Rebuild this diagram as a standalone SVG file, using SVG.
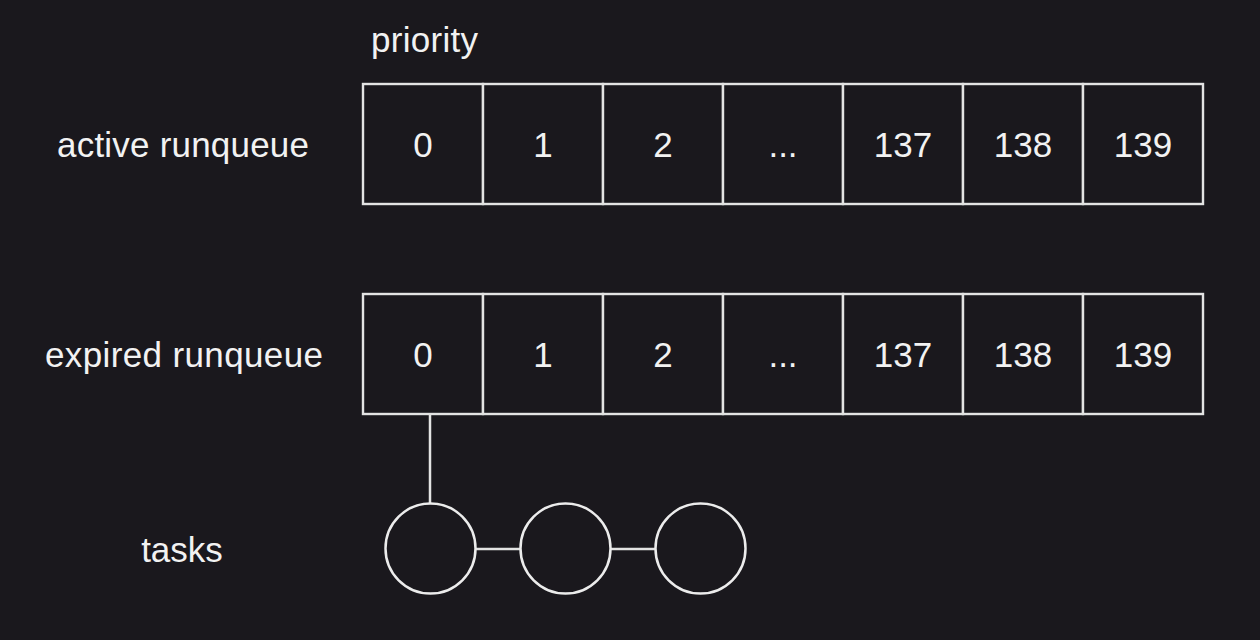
<svg xmlns="http://www.w3.org/2000/svg" width="1260" height="640" viewBox="0 0 1260 640">
  <style>
    .bg { fill: #1a181d; }
    .cell { fill: #1a181d; stroke: #e3e3e3; stroke-width: 2.4; }
    .task { fill: #1a181d; stroke: #ececec; stroke-width: 2.5; }
    .wire { stroke: #e3e3e3; stroke-width: 2.5; fill: none; }
    text { font-family: "Liberation Sans", Arial, sans-serif; font-size: 35px; fill: #f2f2f2; text-anchor: middle; }
  </style>
  <rect class="bg" x="0" y="0" width="1260" height="640"/>

  <g id="labels">
    <text x="424.5" y="52" textLength="107" lengthAdjust="spacing">priority</text>
    <text x="183" y="157" textLength="252" lengthAdjust="spacing">active runqueue</text>
    <text x="184" y="367" textLength="278" lengthAdjust="spacing">expired runqueue</text>
    <text x="182" y="562">tasks</text>
  </g>

  <g id="connectors">
    <line class="wire" x1="430" y1="414" x2="430" y2="504"/>
    <line class="wire" x1="476" y1="549" x2="520" y2="549"/>
    <line class="wire" x1="611" y1="549" x2="655" y2="549"/>
  </g>

  <g id="active-runqueue">
    <g id="a0"><rect class="cell" x="363" y="84" width="120" height="120"/><text x="423" y="157">0</text></g>
    <g id="a1"><rect class="cell" x="483" y="84" width="120" height="120"/><text x="543" y="157">1</text></g>
    <g id="a2"><rect class="cell" x="603" y="84" width="120" height="120"/><text x="663" y="157">2</text></g>
    <g id="a3"><rect class="cell" x="723" y="84" width="120" height="120"/><text x="783" y="157">...</text></g>
    <g id="a137"><rect class="cell" x="843" y="84" width="120" height="120"/><text x="903" y="157">137</text></g>
    <g id="a138"><rect class="cell" x="963" y="84" width="120" height="120"/><text x="1023" y="157">138</text></g>
    <g id="a139"><rect class="cell" x="1083" y="84" width="120" height="120"/><text x="1143" y="157">139</text></g>
  </g>

  <g id="expired-runqueue">
    <g id="e0"><rect class="cell" x="363" y="294" width="120" height="120"/><text x="423" y="367">0</text></g>
    <g id="e1"><rect class="cell" x="483" y="294" width="120" height="120"/><text x="543" y="367">1</text></g>
    <g id="e2"><rect class="cell" x="603" y="294" width="120" height="120"/><text x="663" y="367">2</text></g>
    <g id="e3"><rect class="cell" x="723" y="294" width="120" height="120"/><text x="783" y="367">...</text></g>
    <g id="e137"><rect class="cell" x="843" y="294" width="120" height="120"/><text x="903" y="367">137</text></g>
    <g id="e138"><rect class="cell" x="963" y="294" width="120" height="120"/><text x="1023" y="367">138</text></g>
    <g id="e139"><rect class="cell" x="1083" y="294" width="120" height="120"/><text x="1143" y="367">139</text></g>
  </g>

  <g id="task1"><circle class="task" cx="430.5" cy="548.5" r="45"/></g>
  <g id="task2"><circle class="task" cx="565.5" cy="548.5" r="45"/></g>
  <g id="task3"><circle class="task" cx="700.5" cy="548.5" r="45"/></g>
</svg>
